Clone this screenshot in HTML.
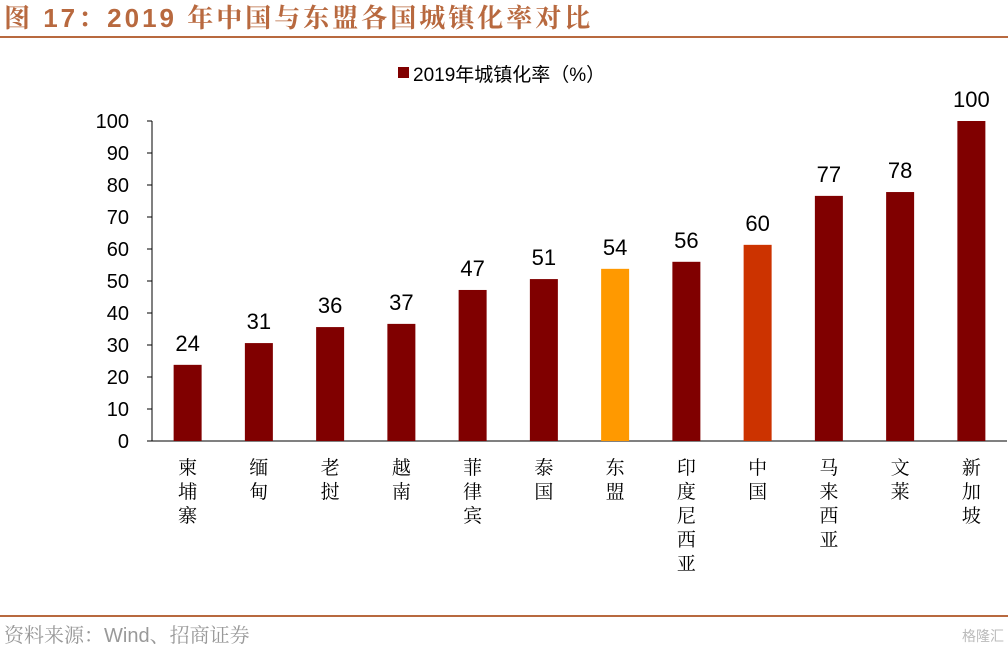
<!DOCTYPE html>
<html><head><meta charset="utf-8"><style>
body{margin:0;width:1008px;height:650px;background:#fff;overflow:hidden;font-family:"Liberation Sans","Noto Sans CJK SC",sans-serif}
</style></head><body>
<svg width="1008" height="650" style="position:absolute;left:0;top:0">
<text x="4" y="27" font-size="26" letter-spacing="3" font-weight="bold" fill="#b8693f" font-family="Liberation Sans, Noto Serif CJK SC, serif">图 17：2019 年中国与东盟各国城镇化率对比</text>
<rect x="0" y="36" width="1008" height="2" fill="#b8693f"/>
<rect x="398" y="67" width="11" height="11" fill="#800000"/>
<text x="413" y="81" font-size="19" fill="#000">2019年城镇化率（%）</text>
<g id="plot"></g>
<rect x="0" y="615" width="1008" height="2" fill="#b8693f"/>
<text x="4" y="642" font-size="20" fill="#999" font-family="Liberation Sans, Noto Serif CJK SC, serif">资料来源：Wind、招商证券</text>
<text x="1004" y="641" font-size="14" fill="#bbb" text-anchor="end">格隆汇</text>
</svg>
<script>
const categories=["柬埔寨","缅甸","老挝","越南","菲律宾","泰国","东盟","印度尼西亚","中国","马来西亚","文莱","新加坡"];
const values=[23.8,30.6,35.6,36.6,47.2,50.6,53.8,56,61.3,76.6,77.8,100];
const valueLabels=["24","31","36","37","47","51","54","56","60","77","78","100"];
const yTicks=[0,10,20,30,40,50,60,70,80,90,100];
const colors=["#800000","#800000","#800000","#800000","#800000","#800000","#ff9900","#800000","#cc3300","#800000","#800000","#800000"];
const NS="http://www.w3.org/2000/svg";
const g=document.getElementById('plot');
const x0=152,x1=1007,yBase=441,yTop=121;
const y=v=>yBase-(v/100)*(yBase-yTop);
const step=(x1-x0)/categories.length;
const xc=i=>x0+step*(i+0.5);
function mk(t,a){const e=document.createElementNS(NS,t);for(const k in a)e.setAttribute(k,a[k]);g.appendChild(e);return e;}
let ax=mk('line',{x1:x0,y1:yTop,x2:x0,y2:yBase,stroke:'#000','stroke-width':1});


let bx=mk('line',{x1:x0,y1:yBase,x2:x1,y2:yBase,stroke:'#000','stroke-width':1});


yTicks.forEach(t=>{
 let l=mk('line',{x1:x0-5,y1:y(t),x2:x0,y2:y(t),stroke:'#000'});
 
 
 let tx=mk('text',{x:129,y:y(t)+7,'font-size':20,'text-anchor':'end'});tx.textContent=t;
 
 
});
categories.forEach((c,i)=>{
 let r=mk('rect',{x:xc(i)-14,y:y(values[i]),width:28,height:yBase-y(values[i]),fill:colors[i]});
 
 
 let v=mk('text',{x:xc(i),y:y(values[i])-14,'font-size':22,'text-anchor':'middle'});v.textContent=valueLabels[i];
 
 
 [...c].forEach((ch,k)=>{
  let t=mk('text',{x:xc(i),y:474+k*24,'font-size':19,'text-anchor':'middle','font-family':'Noto Serif CJK SC, serif'});t.textContent=ch;
  
  
 });
});
</script>
</body></html>
